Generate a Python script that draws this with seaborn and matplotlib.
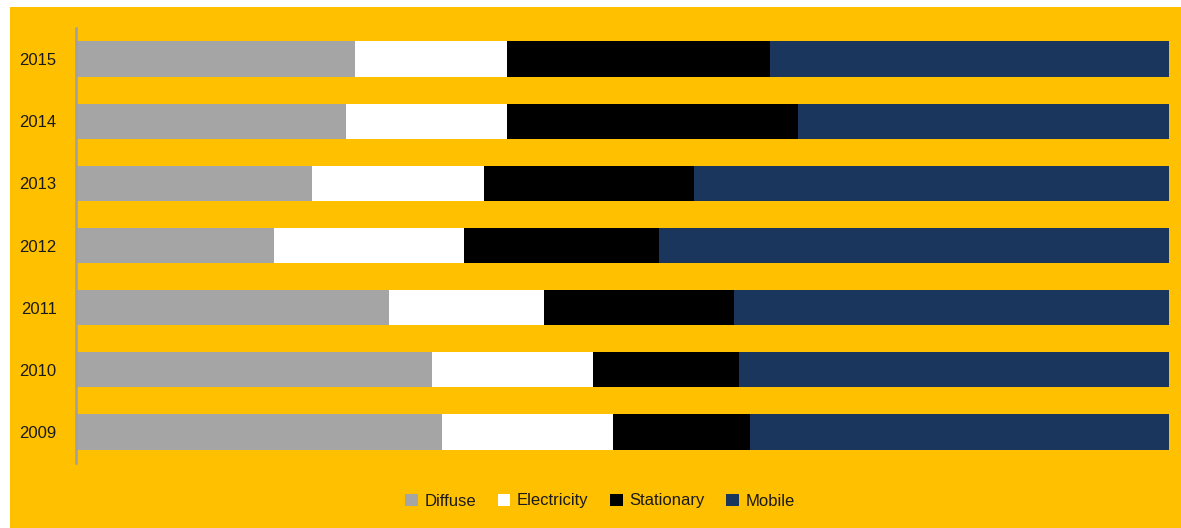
import matplotlib
matplotlib.use("Agg")
import matplotlib.pyplot as plt
from matplotlib.patches import Patch, Rectangle
import seaborn as sns
import pandas as pd
import numpy as np

years = ["2015", "2014", "2013", "2012", "2011", "2010", "2009"]
diffuse = [25.5, 24.7, 21.6, 18.1, 28.6, 32.6, 33.5]
electricity = [13.9, 14.7, 15.7, 17.4, 14.2, 14.7, 15.6]
stationary = [24.1, 26.7, 19.2, 17.8, 17.4, 13.4, 12.6]
mobile = [36.5, 33.9, 43.5, 46.7, 39.8, 39.3, 38.3]

series = ["Diffuse", "Electricity", "Stationary", "Mobile"]
colors = ["#A5A5A5", "#FFFFFF", "#000000", "#1A365D"]
orange = "#FFC000"

sns.set_theme(style="white")
plt.rcParams["font.family"] = ["Liberation Sans", "DejaVu Sans"]

df = pd.DataFrame({"year": years, "Diffuse": diffuse, "Electricity": electricity,
                   "Stationary": stationary, "Mobile": mobile})
cum = df[series].cumsum(axis=1)

fig = plt.figure(figsize=(11.81, 5.28), dpi=100)
fig.patch.set_facecolor("white")
bg = Rectangle((10 / 1181, 0), 1 - 10 / 1181, 1 - 7 / 528,
               transform=fig.transFigure, facecolor=orange,
               edgecolor="none", zorder=-10)
fig.patches.append(bg)
ax = fig.add_axes([76 / 1181, 1 - 463 / 528, (1169 - 76) / 1181, (463 - 28) / 528])
ax.set_facecolor("none")
ax.set_zorder(5)

for s, c in reversed(list(zip(series, colors))):
    sns.barplot(x=cum[s], y=df["year"], order=years, orient="h", color=c,
                width=0.57, linewidth=0, saturation=1, ax=ax)

ax.set_xlim(0, 100)
ax.set_ylim(6.5, -0.5)
ax.set_xlabel("")
ax.set_ylabel("")
ax.set_xticks([])
ax.tick_params(axis="y", length=0, pad=14, labelsize=12, labelcolor="#1a1a1a")
for sp in ["top", "right", "bottom"]:
    ax.spines[sp].set_visible(False)
ax.spines["left"].set_color("#A0A0A0")
ax.spines["left"].set_linewidth(1.8)

handles = [Patch(facecolor=c, edgecolor="none", label=s) for s, c in zip(series, colors)]
leg = fig.legend(handles=handles, loc="center", bbox_to_anchor=(0.508, 1 - 501 / 528),
                 ncol=4, frameon=False, fontsize=12, handlelength=0.75, handleheight=0.75,
                 handletextpad=0.4, columnspacing=1.3, labelcolor="#1a1a1a")
leg.set_zorder(6)

fig.savefig("out.png", dpi=100, facecolor=fig.get_facecolor())
